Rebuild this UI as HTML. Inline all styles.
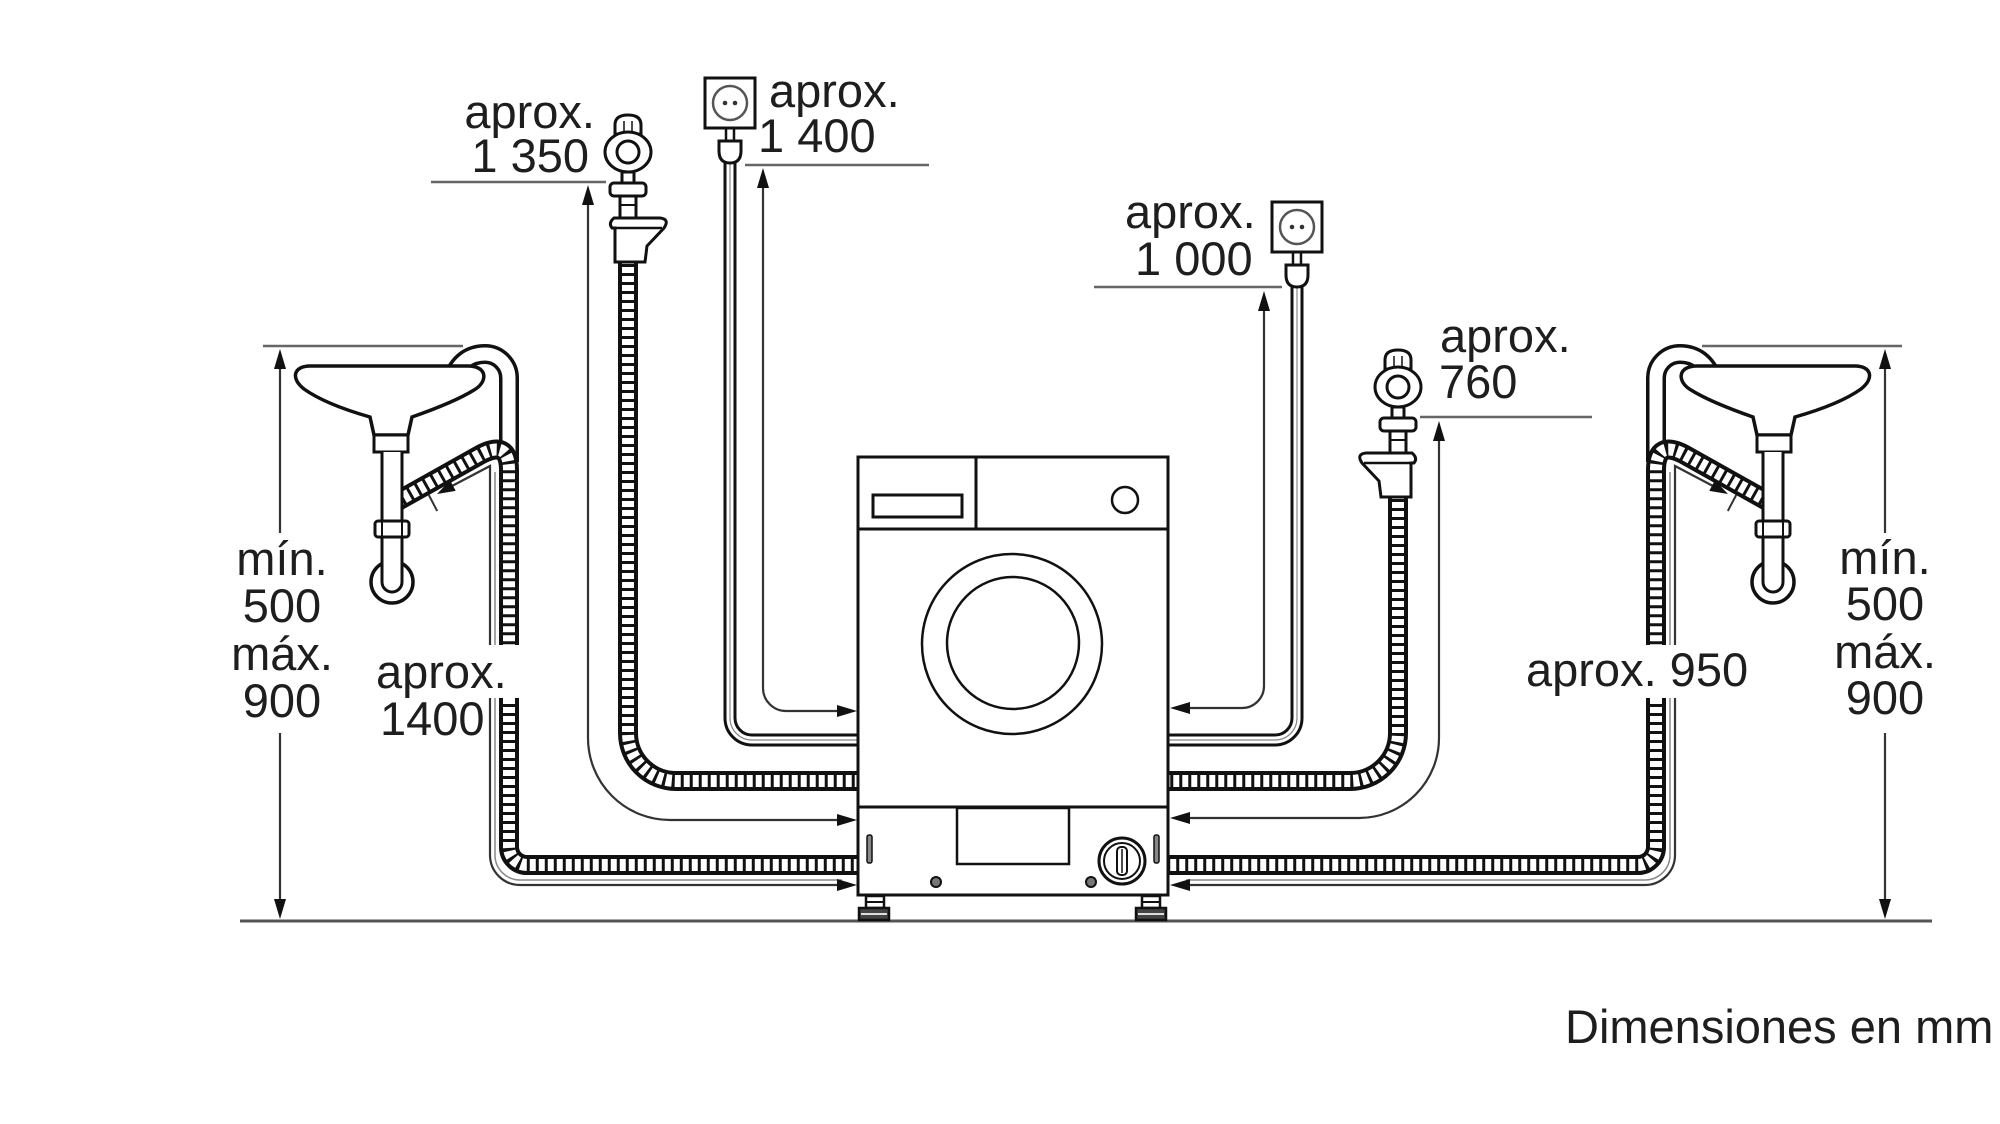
<!DOCTYPE html>
<html><head><meta charset="utf-8">
<style>
html,body{margin:0;padding:0;background:#fff;}
svg{display:block;}
text{font-family:"Liberation Sans",Arial,sans-serif;font-size:47px;fill:#1e1e1e;}
</style></head><body>
<svg width="2000" height="1124" viewBox="0 0 2000 1124" xmlns="http://www.w3.org/2000/svg">
<defs>
 <g id="drain">
   <!-- height dimension -->
   <line x1="263" y1="346" x2="463" y2="346" stroke="#666" stroke-width="2.5"/>
   <line x1="280" y1="362" x2="280" y2="533" stroke="#333" stroke-width="2.2"/>
   <polygon points="280,349 274,369 286,369" fill="#111"/>
   <line x1="280" y1="733" x2="280" y2="904" stroke="#333" stroke-width="2.2"/>
   <polygon points="280,919 274,899 286,899" fill="#111"/>
   <!-- smooth hook hose -->
   <path d="M452,380 C458,362 470,354 485,354 A24 24 0 0 1 509,378 L509,462" fill="none" stroke="#111" stroke-width="20"/>
   <path d="M452,380 C458,362 470,354 485,354 A24 24 0 0 1 509,378 L509,462" fill="none" stroke="#fff" stroke-width="13"/>
   <!-- basin -->
   <path d="M310,366 L468,366 C488,366 488,382 474,390 C458,400 432,410 412,417 L408,435 L374,435 L370,417 C342,409 318,399 304,389 C290,378 294,366 310,366 Z" fill="#fff" stroke="#111" stroke-width="3.5"/>
   <!-- corrugated drain hose to siphon -->
   <path d="M396,502 L478,456 Q509,438 509,470 L509,645" fill="none" stroke="#111" stroke-width="20"/>
   <path d="M396,502 L478,456 Q509,438 509,470 L509,645" fill="none" stroke="#fff" stroke-width="12" stroke-dasharray="6 3"/>
   <!-- siphon -->
   <rect x="374" y="435" width="34" height="17" fill="#fff" stroke="#111" stroke-width="3"/>
   <circle cx="392" cy="582" r="21" fill="#fff" stroke="#111" stroke-width="3.5"/>
   <rect x="383.5" y="452" width="17" height="130" fill="#fff"/>
   <path d="M382,452 L382,582 A10 10 0 0 0 402,582 L402,452" fill="none" stroke="#111" stroke-width="3"/>
   <rect x="375" y="521" width="34" height="16" rx="3" fill="#fff" stroke="#111" stroke-width="3"/>
   <line x1="382" y1="521" x2="382" y2="537" stroke="#111" stroke-width="2"/>
   <line x1="402" y1="521" x2="402" y2="537" stroke="#111" stroke-width="2"/>
   <!-- drain length dimension (upper) -->
   <path d="M495,645 L495,472" fill="none" stroke="#888" stroke-width="1.5"/>
   <path d="M490,645 L490,466 L452,486" fill="none" stroke="#333" stroke-width="2.2"/>
   <polygon points="437,494 455.7,490.9 450.1,480.3" fill="#111"/>
   <line x1="428.8" y1="495" x2="437.2" y2="511" stroke="#333" stroke-width="2"/>
 </g>
 <g id="tap" fill="#fff" stroke="#111" stroke-width="3">
   <path d="M615,134 L615,125 Q615,115 628,115 Q641,115 641,125 L641,134 Z"/>
   <line x1="624" y1="121" x2="624" y2="134" stroke-width="1.5"/>
   <line x1="632" y1="121" x2="632" y2="134" stroke-width="1.5"/>
   <ellipse cx="628" cy="152" rx="23" ry="20"/>
   <circle cx="628" cy="152" r="11"/>
   <rect x="622" y="172" width="12" height="11"/>
   <rect x="610" y="183" width="36" height="13" rx="4"/>
   <rect x="620" y="196" width="16" height="22"/>
   <line x1="620" y1="205" x2="636" y2="205" stroke-width="2"/>
   <path d="M615,262 L615,228 L612,228 Q608,223 614,218 L660,218 Q670,219 664,228 L647,246 L645,262 Z"/>
   <line x1="613" y1="228" x2="662" y2="228" stroke-width="2.5"/>
 </g>
 <g id="sock" fill="#fff" stroke="#111" stroke-width="3">
   <rect x="705" y="78" width="50" height="50"/>
   <circle cx="730" cy="103" r="17" stroke="#555" stroke-width="2.5"/>
   <circle cx="725" cy="103" r="2.3" fill="#333" stroke="none"/>
   <circle cx="735" cy="103" r="2.3" fill="#333" stroke="none"/>
   <line x1="726" y1="129" x2="726" y2="141" stroke-width="2.5"/>
   <line x1="734" y1="129" x2="734" y2="141" stroke-width="2.5"/>
   <path d="M719,141 L741,141 L741,151 Q741,163 730,163 Q719,163 719,151 Z"/>
 </g>
</defs>

<rect x="0" y="0" width="2000" height="1124" fill="#fff"/>

<!-- floor -->
<line x1="240" y1="921" x2="1932" y2="921" stroke="#555" stroke-width="3"/>

<!-- drain assemblies -->
<use href="#drain"/>
<use href="#drain" transform="matrix(-1 0 0 1 2165 0)"/>

<!-- LEFT lower drain hose -->
<path d="M509,698 L509,847 A18 18 0 0 0 527,865 L858,865" fill="none" stroke="#111" stroke-width="20"/>
<path d="M509,698 L509,847 A18 18 0 0 0 527,865 L858,865" fill="none" stroke="#fff" stroke-width="12" stroke-dasharray="6 3"/>
<path d="M495,698 L495,855 A25 25 0 0 0 520,880 L842,880" fill="none" stroke="#888" stroke-width="1.5"/>
<path d="M490,698 L490,855 A30 30 0 0 0 520,885 L842,885" fill="none" stroke="#333" stroke-width="2.2"/>
<polygon points="857,885 837,879 837,891" fill="#111"/>

<!-- RIGHT lower drain hose -->
<path d="M1656,698 L1656,847 A18 18 0 0 1 1638,865 L1168,865" fill="none" stroke="#111" stroke-width="20"/>
<path d="M1656,698 L1656,847 A18 18 0 0 1 1638,865 L1168,865" fill="none" stroke="#fff" stroke-width="12" stroke-dasharray="6 3"/>
<path d="M1670,698 L1670,855 A25 25 0 0 1 1645,880 L1186,880" fill="none" stroke="#888" stroke-width="1.5"/>
<path d="M1675,698 L1675,855 A30 30 0 0 1 1645,885 L1186,885" fill="none" stroke="#333" stroke-width="2.2"/>
<polygon points="1170,885 1190,879 1190,891" fill="#111"/>

<!-- LEFT inlet hose -->
<path d="M628,258 L628,733 A48 48 0 0 0 676,781 L858,781" fill="none" stroke="#111" stroke-width="20"/>
<path d="M628,258 L628,733 A48 48 0 0 0 676,781 L858,781" fill="none" stroke="#fff" stroke-width="12" stroke-dasharray="6 3"/>
<use href="#tap"/>
<!-- LEFT inlet dimension -->
<line x1="431" y1="182" x2="606" y2="182" stroke="#666" stroke-width="2.5"/>
<path d="M588,204 L588,738 A82 82 0 0 0 670,820 L840,820" fill="none" stroke="#333" stroke-width="2.2"/>
<polygon points="588,185 582,205 594,205" fill="#111"/>
<polygon points="857,820 837,814 837,826" fill="#111"/>

<!-- RIGHT inlet hose -->
<path d="M1398,493 L1398,733 A48 48 0 0 1 1350,781 L1168,781" fill="none" stroke="#111" stroke-width="20"/>
<path d="M1398,493 L1398,733 A48 48 0 0 1 1350,781 L1168,781" fill="none" stroke="#fff" stroke-width="12" stroke-dasharray="6 3"/>
<use href="#tap" transform="matrix(-1 0 0 1 2026 235)"/>
<line x1="1420" y1="417" x2="1592" y2="417" stroke="#666" stroke-width="2.5"/>
<path d="M1439,440 L1439,738 A80 80 0 0 1 1359,818 L1188,818" fill="none" stroke="#333" stroke-width="2.2"/>
<polygon points="1439,421 1433,441 1445,441" fill="#111"/>
<polygon points="1170,818 1190,812 1190,824" fill="#111"/>

<!-- LEFT power cord -->
<path d="M730,160 L730,718 A22 22 0 0 0 752,740 L858,740" fill="none" stroke="#111" stroke-width="13"/>
<path d="M730,160 L730,718 A22 22 0 0 0 752,740 L858,740" fill="none" stroke="#fff" stroke-width="7"/>
<path d="M730,160 L730,718 A22 22 0 0 0 752,740 L858,740" fill="none" stroke="#888" stroke-width="1.2"/>
<use href="#sock"/>
<line x1="745" y1="165" x2="929" y2="165" stroke="#666" stroke-width="2.5"/>
<path d="M763,186 L763,688 A23 23 0 0 0 786,711 L840,711" fill="none" stroke="#333" stroke-width="2.2"/>
<polygon points="763,168 757,188 769,188" fill="#111"/>
<polygon points="857,711 837,705 837,717" fill="#111"/>

<!-- RIGHT power cord -->
<path d="M1297,284 L1297,718 A22 22 0 0 1 1275,740 L1168,740" fill="none" stroke="#111" stroke-width="13"/>
<path d="M1297,284 L1297,718 A22 22 0 0 1 1275,740 L1168,740" fill="none" stroke="#fff" stroke-width="7"/>
<path d="M1297,284 L1297,718 A22 22 0 0 1 1275,740 L1168,740" fill="none" stroke="#888" stroke-width="1.2"/>
<use href="#sock" transform="translate(567,124)"/>
<line x1="1094" y1="287" x2="1282" y2="287" stroke="#666" stroke-width="2.5"/>
<path d="M1264,310 L1264,686 A22 22 0 0 1 1242,708 L1188,708" fill="none" stroke="#333" stroke-width="2.2"/>
<polygon points="1264,291 1258,311 1270,311" fill="#111"/>
<polygon points="1170,708 1190,702 1190,714" fill="#111"/>

<!-- WASHER -->
<g fill="none" stroke="#111" stroke-width="3">
  <rect x="858" y="457" width="310" height="438" fill="#fff"/>
  <line x1="858" y1="529" x2="1168" y2="529"/>
  <line x1="976" y1="457" x2="976" y2="529"/>
  <rect x="873" y="495" width="89" height="22"/>
  <circle cx="1125" cy="500" r="13" stroke-width="2.5"/>
  <circle cx="1012" cy="644" r="90" stroke-width="2.5"/>
  <circle cx="1013" cy="643" r="66" stroke-width="2.5"/>
  <line x1="858" y1="807" x2="1168" y2="807"/>
  <rect x="957" y="808" width="112" height="56" stroke-width="2.5"/>
  <circle cx="1122" cy="861" r="23"/>
  <circle cx="1122" cy="861" r="18" stroke-width="2"/>
  <rect x="1117" y="847" width="10" height="28" rx="4" stroke-width="2"/>
  <line x1="1122" y1="849" x2="1122" y2="873" stroke-width="1.5"/>
  <rect x="867" y="835" width="5" height="28" rx="2" stroke-width="1.5" fill="#888"/>
  <rect x="1154" y="835" width="5" height="28" rx="2" stroke-width="1.5" fill="#888"/>
  <circle cx="936" cy="882" r="5" fill="#777" stroke-width="2"/>
  <circle cx="1091" cy="882" r="5" fill="#777" stroke-width="2"/>
</g>
<!-- feet -->
<g stroke="#111" stroke-width="2.5">
  <rect x="866" y="896" width="18" height="12" fill="#fff"/>
  <line x1="866" y1="902" x2="884" y2="902" stroke-width="2"/>
  <rect x="859" y="908" width="30" height="12" fill="#444"/>
  <line x1="861" y1="914" x2="887" y2="914" stroke="#ddd" stroke-width="2"/>
  <rect x="1142" y="896" width="18" height="12" fill="#fff"/>
  <line x1="1142" y1="902" x2="1160" y2="902" stroke-width="2"/>
  <rect x="1136" y="908" width="30" height="12" fill="#444"/>
  <line x1="1138" y1="914" x2="1164" y2="914" stroke="#ddd" stroke-width="2"/>
</g>

<!-- LABELS -->
<text x="595" y="128" text-anchor="end">aprox.</text>
<text x="589" y="172" text-anchor="end">1 350</text>
<text x="769" y="107">aprox.</text>
<text x="758" y="152">1 400</text>
<text x="1125" y="228">aprox.</text>
<text x="1135" y="275">1 000</text>
<text x="1440" y="352">aprox.</text>
<text x="1439" y="398">760</text>
<text x="376" y="688">aprox.</text>
<text x="380" y="735">1400</text>
<text x="1526" y="686">aprox. 950</text>

<text x="282" y="575" text-anchor="middle">mín.</text>
<text x="282" y="622" text-anchor="middle">500</text>
<text x="282" y="670" text-anchor="middle">máx.</text>
<text x="282" y="717" text-anchor="middle">900</text>

<text x="1885" y="574" text-anchor="middle">mín.</text>
<text x="1885" y="620" text-anchor="middle">500</text>
<text x="1885" y="668" text-anchor="middle">máx.</text>
<text x="1885" y="714" text-anchor="middle">900</text>

<text x="1565" y="1043">Dimensiones en mm</text>
</svg>
</body></html>
